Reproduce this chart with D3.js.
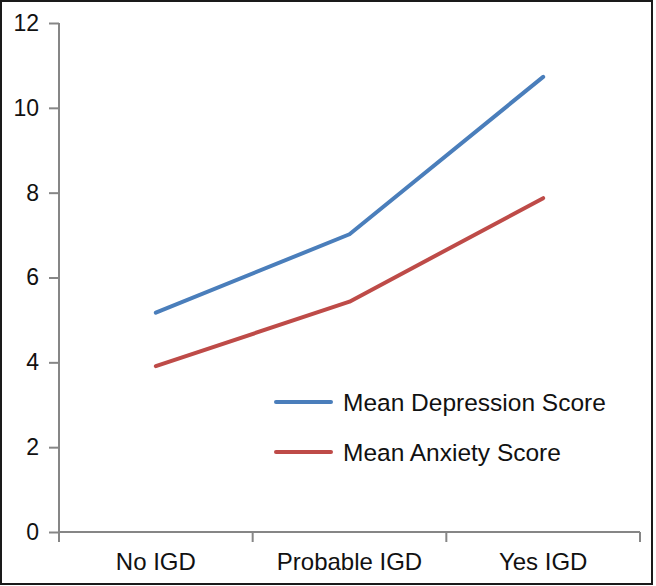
<!DOCTYPE html>
<html><head><meta charset="utf-8">
<script src="https://cdn.jsdelivr.net/npm/d3@7"></script>
<style>body{margin:0;background:#fff;}svg{display:block;font-family:"Liberation Sans",Arial,sans-serif;}</style>
</head><body>
<script>
const categories = ["No IGD", "Probable IGD", "Yes IGD"];
const depression = [5.17, 7.02, 10.73];
const anxiety = [3.91, 5.43, 7.87];
const seriesNames = ["Mean Depression Score", "Mean Anxiety Score"];
const seriesColors = ["#4a7ebb", "#be4b48"];
const yTicks = [0, 2, 4, 6, 8, 10, 12];

const W = 656, H = 586;
const svg = d3.select("body").append("svg").attr("width", W).attr("height", H);
svg.append("rect").attr("x", 1).attr("y", 1).attr("width", 651).attr("height", 583)
  .attr("fill", "#fff").attr("stroke", "#1a1a1a").attr("stroke-width", 2);

const x0 = 59, x1 = 640, yTop = 23, yBot = 532;
const x = d3.scaleBand().domain(categories).range([x0, x1]);
const y = d3.scaleLinear().domain([0, 12]).range([yBot, yTop]);
const axisColor = "#868686";

// Y axis
const yAxis = svg.append("g").attr("transform", `translate(${x0},0)`)
  .call(d3.axisLeft(y).tickValues(yTicks).tickSize(10).tickPadding(10).tickFormat(d3.format("d")));
yAxis.attr("font-size", null).attr("font-family", null);
yAxis.select(".domain").attr("stroke", axisColor).attr("stroke-width", 2).attr("d", `M0,${yBot}V${yTop}`);
yAxis.selectAll(".tick line").attr("stroke", axisColor).attr("stroke-width", 2);
yAxis.selectAll(".tick text").style("font-size", "23px").attr("fill", "#111");

// X axis
const xAxis = svg.append("g").attr("transform", `translate(0,${yBot})`)
  .call(d3.axisBottom(x).tickSize(0).tickPadding(21));
xAxis.attr("font-size", null).attr("font-family", null);
xAxis.select(".domain").attr("stroke", axisColor).attr("stroke-width", 2).attr("d", `M${x0},0H${x1}`);
xAxis.selectAll(".tick text").style("font-size", "24px").attr("fill", "#111");
// boundary tick marks
const bounds = categories.map(c => x(c)).concat([x(categories[categories.length-1]) + x.bandwidth()]);
svg.append("g").selectAll("line").data(bounds).join("line")
  .attr("x1", d => d).attr("x2", d => d).attr("y1", yBot).attr("y2", yBot + 10)
  .attr("stroke", axisColor).attr("stroke-width", 2);

// Lines
const line = d3.line().x((d, i) => x(categories[i]) + x.bandwidth() / 2).y(d => y(d));
[depression, anxiety].forEach((s, k) => {
  svg.append("path").datum(s).attr("d", line).attr("fill", "none")
    .attr("stroke", seriesColors[k]).attr("stroke-width", 4).attr("stroke-linejoin", "round").attr("stroke-linecap", "round");
});

// Legend
const legY = [402, 452];
seriesNames.forEach((n, k) => {
  svg.append("line").attr("x1", 276).attr("x2", 331).attr("y1", legY[k]).attr("y2", legY[k])
    .attr("stroke", seriesColors[k]).attr("stroke-width", 4).attr("stroke-linecap", "round");
  svg.append("text").attr("x", 343).attr("y", legY[k]).attr("dy", "0.35em")
    .style("font-size", "24.5px").attr("fill", "#111").text(n);
});
</script>
</body></html>
